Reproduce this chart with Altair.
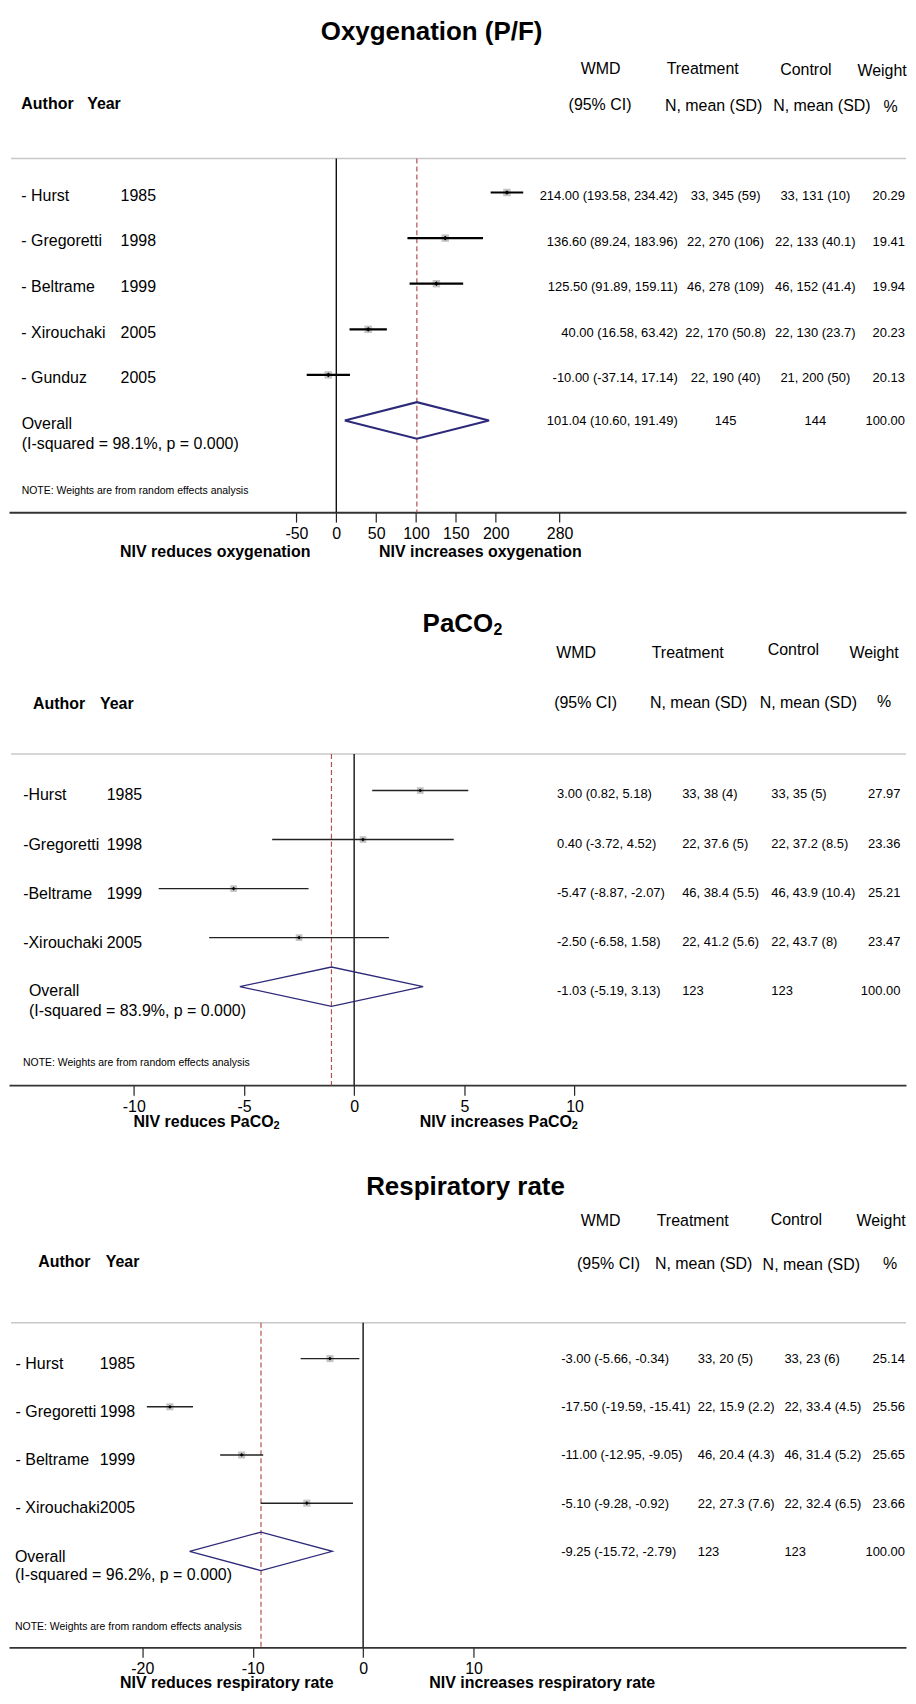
import altair as alt
import pandas as pd

FONT = "Liberation Sans, Arial, Helvetica, sans-serif"
W = 900

# ---------------- data ----------------
# Panel 1: Oxygenation (P/F)
ox_author = ["Hurst", "Gregoretti", "Beltrame", "Xirouchaki", "Gunduz"]
ox_year = ["1985", "1998", "1999", "2005", "2005"]
ox_wmd = [214.00, 136.60, 125.50, 40.00, -10.00]
ox_lo = [193.58, 89.24, 91.89, 16.58, -37.14]
ox_hi = [234.42, 183.96, 159.11, 63.42, 17.14]
ox_trt = ["33, 345 (59)", "22, 270 (106)", "46, 278 (109)", "22, 170 (50.8)", "22, 190 (40)"]
ox_ctl = ["33, 131 (10)", "22, 133 (40.1)", "46, 152 (41.4)", "22, 130 (23.7)", "21, 200 (50)"]
ox_wt = ["20.29", "19.41", "19.94", "20.23", "20.13"]
ox_pooled = [101.04, 10.60, 191.49]
ox_ntot = ["145", "144"]
ox_i2 = "98.1%"
ox_ticks = [-50, 0, 50, 100, 150, 200, 280]

# Panel 2: PaCO2
pc_author = ["Hurst", "Gregoretti", "Beltrame", "Xirouchaki"]
pc_year = ["1985", "1998", "1999", "2005"]
pc_wmd = [3.00, 0.40, -5.47, -2.50]
pc_lo = [0.82, -3.72, -8.87, -6.58]
pc_hi = [5.18, 4.52, -2.07, 1.58]
pc_trt = ["33, 38 (4)", "22, 37.6 (5)", "46, 38.4 (5.5)", "22, 41.2 (5.6)"]
pc_ctl = ["33, 35 (5)", "22, 37.2 (8.5)", "46, 43.9 (10.4)", "22, 43.7 (8)"]
pc_wt = ["27.97", "23.36", "25.21", "23.47"]
pc_pooled = [-1.03, -5.19, 3.13]
pc_ntot = ["123", "123"]
pc_i2 = "83.9%"
pc_ticks = [-10, -5, 0, 5, 10]

# Panel 3: Respiratory rate
rr_author = ["Hurst", "Gregoretti", "Beltrame", "Xirouchaki"]
rr_year = ["1985", "1998", "1999", "2005"]
rr_wmd = [-3.00, -17.50, -11.00, -5.10]
rr_lo = [-5.66, -19.59, -12.95, -9.28]
rr_hi = [-0.34, -15.41, -9.05, -0.92]
rr_trt = ["33, 20 (5)", "22, 15.9 (2.2)", "46, 20.4 (4.3)", "22, 27.3 (7.6)"]
rr_ctl = ["33, 23 (6)", "22, 33.4 (4.5)", "46, 31.4 (5.2)", "22, 32.4 (6.5)"]
rr_wt = ["25.14", "25.56", "25.65", "23.66"]
rr_pooled = [-9.25, -15.72, -2.79]
rr_ntot = ["123", "123"]
rr_i2 = "96.2%"
rr_ticks = [-20, -10, 0, 10]

ONE = pd.DataFrame({"k": [0]})


def T(s, x, y, size=16, bold=False, align="center"):
    return alt.Chart(ONE).mark_text(
        text=s, font=FONT, fontSize=size, fontWeight="bold" if bold else "normal",
        align=align, baseline="middle", color="black"
    ).encode(x=alt.value(x), y=alt.value(y))


def fmt(e, l, h):
    return f"{e:.2f} ({l:.2f}, {h:.2f})"


def forest(authors, years, wmd, lo, hi, trt, ctl, wt, pooled, ntot, i2, ticks, L):
    n = len(authors)
    H = L["H"]
    df = pd.DataFrame({
        "row": list(range(1, n + 1)),
        "author": [L["dash"] + a for a in authors],
        "year": years, "wmd": wmd, "lo": lo, "hi": hi,
        "wmdtxt": [fmt(e, a, b) for e, a, b in zip(wmd, lo, hi)],
        "trt": trt, "ctl": ctl, "wt": wt,
    })
    p, pl, ph = pooled
    ov = pd.DataFrame({
        "row": [n + 1], "wmd": [p], "lo": [pl], "hi": [ph],
        "wmdtxt": [fmt(p, pl, ph)], "trt": [ntot[0]], "ctl": [ntot[1]], "wt": ["100.00"],
        "lab1": ["Overall"], "lab2": [f"(I-squared = {i2}, p = 0.000)"],
    })
    dia = pd.DataFrame({
        "x": [pl, p, ph, p, pl],
        "y": [n + 1, n + 1 - 0.4, n + 1, n + 1 + 0.4, n + 1],
        "ord": [0, 1, 2, 3, 4],
    })
    ref = pd.DataFrame({"v": [0]})

    xs = alt.Scale(domain=[-L["x0"] / L["sx"], (W - L["x0"]) / L["sx"]], nice=False, zero=False)
    d0 = 1 - L["y1"] / L["sp"]
    ys = alt.Scale(domain=[d0, d0 + H / L["sp"]], reverse=True, nice=False, zero=False)
    ax = alt.Axis(values=ticks, title=None, grid=False, domainColor="#333",
                  domainWidth=L["domw"], tickColor="#222", tickWidth=1.2, tickSize=10,
                  labelFontSize=16, labelFont=FONT, labelColor="black", labelPadding=3,
                  labelOverlap=False, labelFlush=False, labelExpr="'' + datum.value")

    def X(f):
        return alt.X(f, type="quantitative", scale=xs, axis=ax)

    def Y(f):
        return alt.Y(f, type="quantitative", scale=ys, axis=None)

    layers = []
    layers.append(alt.Chart(ONE).mark_rule(color="#c8c8c8", strokeWidth=1.5).encode(
        x=alt.value(2), x2=alt.value(W), y=alt.value(L["gray"])))
    layers.append(alt.Chart(ref).mark_rule(color="#111", strokeWidth=1.4).encode(
        x=X("v"), y=alt.value(L["gray"]), y2=alt.value(H)))
    layers.append(alt.Chart(ov).mark_rule(color="#b5504f", strokeDash=[5, 3], strokeWidth=1.2).encode(
        x=X("wmd"), y=alt.value(L["gray"]), y2=alt.value(H)))
    layers.append(alt.Chart(df).mark_square(size=L["sq"], color="#c4c4c4", opacity=1).encode(
        x=X("wmd"), y=Y("row")))
    layers.append(alt.Chart(df).mark_rule(color=L["cic"], strokeWidth=L["ciw"]).encode(
        x=X("lo"), x2="hi", y=Y("row")))
    layers.append(alt.Chart(df).mark_point(shape="diamond", filled=True, color="black",
                                           size=L["dot"], opacity=1).encode(
        x=X("wmd"), y=Y("row")))
    layers.append(alt.Chart(dia).mark_line(color="#2e2a7a", strokeWidth=L["diaw"]).encode(
        x=X("x"), y=Y("y"), order="ord:Q"))

    # study labels
    layers.append(alt.Chart(df).mark_text(font=FONT, fontSize=16, align="left", baseline="middle",
                                          dy=L["labdy"], color="black").encode(
        x=alt.value(L["labx"]), y=Y("row"), text="author:N"))
    layers.append(alt.Chart(df).mark_text(font=FONT, fontSize=16, align="left", baseline="middle",
                                          dy=L["labdy"], color="black").encode(
        x=alt.value(L["yearx"]), y=Y("row"), text="year:N"))
    # data columns
    for col, cx, al in L["cols"]:
        layers.append(alt.Chart(df).mark_text(font=FONT, fontSize=13, align=al, baseline="middle",
                                              dy=L["datady"], color="black").encode(
            x=alt.value(cx), y=Y("row"), text=f"{col}:N"))
        layers.append(alt.Chart(ov).mark_text(font=FONT, fontSize=13, align=al, baseline="middle",
                                              dy=L["ovdy"], color="black").encode(
            x=alt.value(cx), y=Y("row"), text=f"{col}:N"))
    # overall labels
    layers.append(alt.Chart(ov).mark_text(font=FONT, fontSize=16, align="left", baseline="middle",
                                          dy=L["ovl1"], color="black").encode(
        x=alt.value(L["ovx"]), y=Y("row"), text="lab1:N"))
    layers.append(alt.Chart(ov).mark_text(font=FONT, fontSize=16, align="left", baseline="middle",
                                          dy=L["ovl2"], color="black").encode(
        x=alt.value(L["ovx"]), y=Y("row"), text="lab2:N"))

    # title (with optional subscript), headers, note, bottom labels
    for s, tx, ty, sz, al in L["title"]:
        layers.append(T(s, tx, ty, size=sz, bold=True, align=al))
    for s, hx, hy in L["heads"]:
        layers.append(T(s, hx, hy, size=16))
    axx, ayx, ahy = L["author"]
    layers.append(T("Author", axx, ahy, size=16, bold=True, align="left"))
    layers.append(T("Year", ayx, ahy, size=16, bold=True, align="left"))
    nx, ny = L["note"]
    layers.append(T("NOTE: Weights are from random effects analysis", nx, ny, size=10.5, align="left"))
    for s, bx, by, sz, al in L["bottom"]:
        layers.append(T(s, bx, H + by, size=sz, bold=True, align=al))

    return alt.layer(*layers).properties(width=W, height=H)


L1 = dict(H=502, x0=328.4, sx=0.8, y1=181.3, sp=45.75, gray=147.3, dash="- ",
          title=[("Oxygenation (P/F)", 424, 20, 26, "center")],
          heads=[("WMD", 593.6, 57), ("(95% CI)", 593, 93.7), ("Treatment", 696, 57.7),
                 ("N, mean (SD)", 707, 95), ("Control", 799.5, 58.7), ("N, mean (SD)", 815.6, 95),
                 ("Weight", 876, 59.7), ("%", 884.5, 96)],
          author=(12.4, 78.4, 92.7), labx=12.4, yearx=112, labdy=3.4,
          cols=[("wmdtxt", 671, "right"), ("trt", 719, "center"), ("ctl", 809, "center"), ("wt", 899, "right")],
          datady=3.5, ovdy=1, ovx=12.7, ovl1=3.4, ovl2=23.4, note=(12.7, 481.3),
          bottom=[("NIV reduces oxygenation", 207, 40, 16, "center"),
                  ("NIV increases oxygenation", 473, 40, 16, "center")],
          ciw=2.2, cic="black", diaw=2.2, sq=56, dot=22, domw=2)

L2 = dict(H=575, x0=346.3, sx=22.11, y1=279.3, sp=49.2, gray=242.7, dash="-",
          title=[("PaCO", 415, 112, 26, "left"), ("2", 486, 118.5, 16, "left")],
          heads=[("WMD", 569, 141.7), ("(95% CI)", 578.5, 192), ("Treatment", 681, 141),
                 ("N, mean (SD)", 692, 192), ("Control", 787, 138), ("N, mean (SD)", 802, 192),
                 ("Weight", 868, 141.7), ("%", 878, 190.7)],
          author=(24, 91.3, 192.3), labx=14.2, yearx=98, labdy=5,
          cols=[("wmdtxt", 549.8, "left"), ("trt", 675.4, "left"), ("ctl", 764.8, "left"), ("wt", 894.4, "right")],
          datady=4, ovdy=4.5, ovx=20, ovl1=4.7, ovl2=24.7, note=(14, 552.7),
          bottom=[("NIV reduces PaCO", 125, 36.7, 16, "left"), ("2", 265.5, 40.5, 11, "left"),
                  ("NIV increases PaCO", 412, 36.7, 16, "left"), ("2", 564.6, 40.5, 11, "left")],
          ciw=1.4, cic="#222", diaw=1.3, sq=45, dot=14, domw=1.8)

L3 = dict(H=564, x0=355.3, sx=11.077, y1=274.3, sp=48.35, gray=238.3, dash="- ",
          title=[("Respiratory rate", 458, 102.3, 26, "center")],
          heads=[("WMD", 593.6, 136.7), ("(95% CI)", 601.5, 179), ("Treatment", 686, 136.7),
                 ("N, mean (SD)", 697, 179), ("Control", 790, 135.7), ("N, mean (SD)", 805, 180),
                 ("Weight", 875, 136.7), ("%", 884, 179)],
          author=(29.4, 97, 177.3), labx=6.6, yearx=91, labdy=5,
          cols=[("wmdtxt", 554, "left"), ("trt", 691, "left"), ("ctl", 778, "left"), ("wt", 899, "right")],
          datady=0.5, ovdy=0.5, ovx=6, ovl1=5.6, ovl2=24, note=(6, 543.3),
          bottom=[("NIV reduces respiratory rate", 218.5, 36, 16, "center"),
                  ("NIV increases respiratory rate", 535, 36, 16, "center")],
          ciw=1.4, cic="#222", diaw=1.3, sq=50, dot=14, domw=1.8)

p1 = forest(ox_author, ox_year, ox_wmd, ox_lo, ox_hi, ox_trt, ox_ctl, ox_wt,
            ox_pooled, ox_ntot, ox_i2, ox_ticks, L1)
p2 = forest(pc_author, pc_year, pc_wmd, pc_lo, pc_hi, pc_trt, pc_ctl, pc_wt,
            pc_pooled, pc_ntot, pc_i2, pc_ticks, L2)
p3 = forest(rr_author, rr_year, rr_wmd, rr_lo, rr_hi, rr_trt, rr_ctl, rr_wt,
            rr_pooled, rr_ntot, rr_i2, rr_ticks, L3)

chart = alt.vconcat(p1, p2, p3, spacing=0, bounds="flush").resolve_scale(
    x="independent", y="independent"
).properties(padding=0, background="white").configure_view(stroke="transparent")

chart.save("out.html", embed_options={"renderer": "svg", "actions": False})
